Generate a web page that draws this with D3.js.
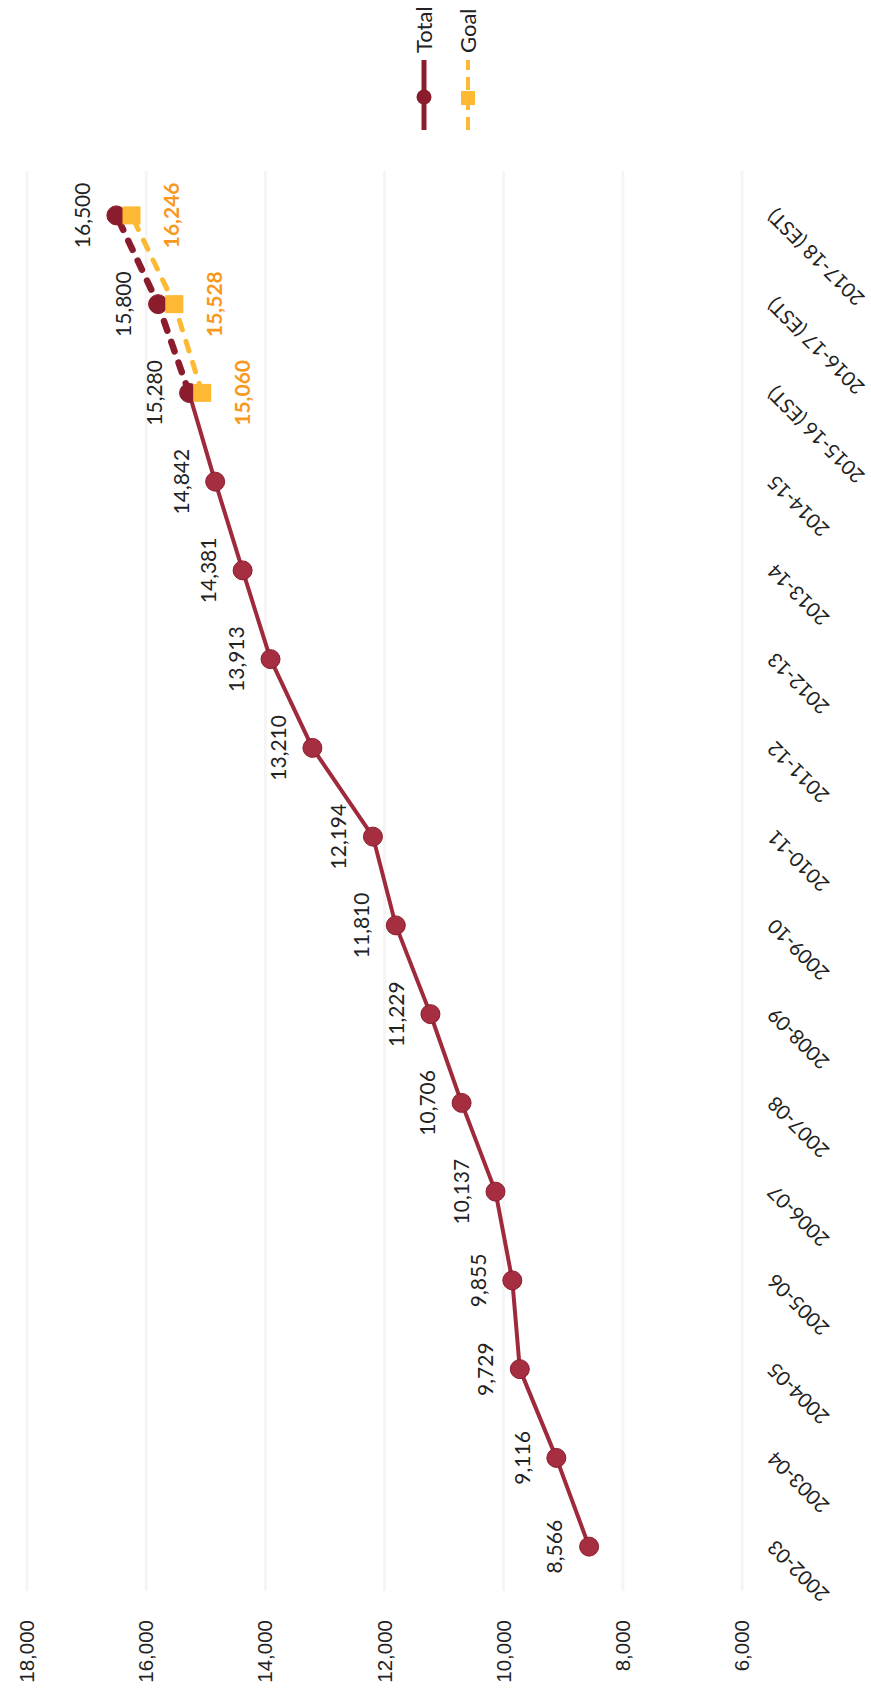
<!DOCTYPE html>
<html><head><meta charset="utf-8">
<script src="https://cdn.jsdelivr.net/npm/d3@7"></script>
<style>body{margin:0;background:#fff;} svg{display:block;background:#fff}</style>
</head><body>
<svg id="c" width="871" height="1697"></svg>
<script>
// ---- data ----
const categories = ["2002-03","2003-04","2004-05","2005-06","2006-07","2007-08","2008-09","2009-10","2010-11","2011-12","2012-13","2013-14","2014-15","2015-16 (EST)","2016-17 (EST)","2017-18 (EST)"];
const totalValues = [8566,9116,9729,9855,10137,10706,11229,11810,12194,13210,13913,14381,14842,15280,15800,16500];
const goalValues = [null,null,null,null,null,null,null,null,null,null,null,null,null,15060,15528,16246];
const yTicks = [6000,8000,10000,12000,14000,16000,18000];
const seriesNames = ["Total","Goal"];
const firstEstimate = "2015-16 (EST)";

// ---- layout (chart drawn in landscape, then turned a quarter turn) ----
const W0 = 1697, H0 = 871;
const svg = d3.select("#c");
const g = svg.append("g").attr("transform", `translate(0,${W0}) rotate(-90)`);

const x = d3.scaleBand().domain(categories).range([106, 1526]);
const cx = c => x(c) + x.bandwidth() / 2;
const y = d3.scaleLinear().domain([6000, 18000]).range([742, 27]);

const C_TOTAL = "#9e2a3b", C_TOTAL_DARK = "#8a1c2d", C_GOAL = "#fdb933", C_GOAL_TXT = "#f8981d";
const FONT_C = "Lato, 'Open Sans', sans-serif";
const FONT_A = "'Liberation Sans', Arial, sans-serif";

// gridlines (very faint in the reference)
g.append("g").selectAll("line").data(yTicks).join("line")
  .attr("x1", 106).attr("x2", 1526)
  .attr("y1", d => y(d)).attr("y2", d => y(d))
  .attr("stroke", "#f5f5f5").attr("stroke-width", 3);

// value axis
const ya = g.append("g").attr("transform", "translate(86,0)")
  .call(d3.axisLeft(y).tickValues(yTicks).tickFormat(d3.format(",")).tickSize(0).tickPadding(9));
ya.select(".domain").remove();
ya.selectAll("text").attr("font-family", FONT_A).attr("font-size", 20.5).attr("fill", "#222");

// category axis
const xa = g.append("g").attr("transform", "translate(0,742)")
  .call(d3.axisBottom(x).tickSize(0).tickPadding(0));
xa.select(".domain").remove();
xa.selectAll("text")
  .attr("y", 0).attr("dy", "0.35em")
  .attr("text-anchor", "end")
  .attr("transform", "translate(3,29) rotate(-45)")
  .attr("font-family", FONT_C).attr("font-size", 20).attr("fill", "#222");

// data rows
const rows = categories.map((c, i) => ({c, t: totalValues[i], gv: goalValues[i]}));
const estIdx = categories.indexOf(firstEstimate);
const line = d3.line().x(d => cx(d.c)).y(d => y(d.v));

const totalSolid = rows.slice(0, estIdx + 1).map(r => ({c: r.c, v: r.t}));
const totalDash = rows.slice(estIdx).map(r => ({c: r.c, v: r.t}));
const goalPts = rows.filter(r => r.gv != null).map(r => ({c: r.c, v: r.gv}));

g.append("path").attr("d", line(totalSolid)).attr("fill", "none")
  .attr("stroke", C_TOTAL).attr("stroke-width", 4).attr("stroke-linejoin", "round");
g.append("path").attr("d", line(totalDash)).attr("fill", "none")
  .attr("stroke", C_TOTAL_DARK).attr("stroke-width", 6.5).attr("stroke-linecap", "round")
  .attr("stroke-dasharray", "10,12");
g.append("path").attr("d", line(goalPts)).attr("fill", "none")
  .attr("stroke", C_GOAL).attr("stroke-width", 5).attr("stroke-linecap", "round")
  .attr("stroke-dasharray", "10,12");

// total markers
g.append("g").selectAll("circle").data(rows).join("circle")
  .attr("cx", d => cx(d.c)).attr("cy", d => y(d.t)).attr("r", 9.5)
  .attr("fill", (d, i) => i >= estIdx ? C_TOTAL_DARK : "#a52f40")
  .attr("stroke", C_TOTAL_DARK).attr("stroke-width", 1);

// goal markers
g.append("g").selectAll("rect").data(goalPts).join("rect")
  .attr("x", d => cx(d.c) - 9).attr("y", d => y(d.v) - 9)
  .attr("width", 18).attr("height", 18).attr("fill", C_GOAL);

// total labels
g.append("g").selectAll("text").data(rows).join("text")
  .attr("x", d => cx(d.c)).attr("y", d => y(d.t) - 34).attr("dy", "0.35em")
  .attr("text-anchor", "middle").attr("font-family", FONT_C).attr("font-size", 21).attr("fill", "#222")
  .text(d => d3.format(",")(d.t));

// goal labels
g.append("g").selectAll("text").data(goalPts).join("text")
  .attr("x", d => cx(d.c)).attr("y", d => y(d.v) + 40).attr("dy", "0.35em")
  .attr("text-anchor", "middle").attr("font-family", FONT_C).attr("font-size", 21)
  .attr("font-weight", "bold").attr("fill", C_GOAL_TXT)
  .text(d => d3.format(",")(d.v));

// legend
const lg = g.append("g");
const lgY = [424, 468];
lg.append("line").attr("x1", 1567).attr("x2", 1637).attr("y1", lgY[0]).attr("y2", lgY[0])
  .attr("stroke", C_TOTAL_DARK).attr("stroke-width", 5);
lg.append("circle").attr("cx", 1600).attr("cy", lgY[0]).attr("r", 7.5).attr("fill", C_TOTAL_DARK);
lg.append("line").attr("x1", 1567).attr("x2", 1637).attr("y1", lgY[1]).attr("y2", lgY[1])
  .attr("stroke", C_GOAL).attr("stroke-width", 4).attr("stroke-dasharray", "13,7");
lg.append("rect").attr("x", 1592).attr("y", lgY[1] - 7).attr("width", 14).attr("height", 14).attr("fill", C_GOAL);
lg.selectAll("text").data(seriesNames).join("text")
  .attr("x", 1644).attr("y", (d, i) => lgY[i]).attr("dy", "0.35em")
  .attr("font-family", FONT_C).attr("font-size", 22).attr("fill", "#222")
  .text(d => d);
</script>
</body></html>
